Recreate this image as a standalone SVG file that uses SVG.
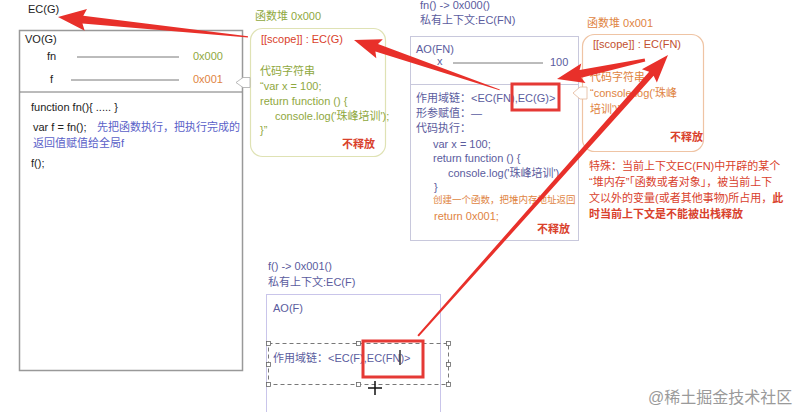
<svg xmlns="http://www.w3.org/2000/svg" width="804" height="412" viewBox="0 0 804 412">
<style>
text{font-family:"Liberation Sans","Noto Sans CJK SC",sans-serif;font-size:11px;}
.blk{fill:#222;}
.pur{fill:#5b5c9e;}
.grn{fill:#8fa83e;}
.org{fill:#e0843f;}
.red{fill:#d9412c;}
.rb{fill:#d9412c;font-weight:bold;}
.blue{fill:#5a5fc8;}
.ln{stroke:#555;stroke-width:0.8;}
.arrow{fill:#e8302a;}
.hd{fill:#fff;stroke:#666;stroke-width:0.8;}
</style>
<rect width="804" height="412" fill="#fff"/>

<g id="ecg">
<text x="28" y="13" class="blk">EC(G)</text>
</g>

<g id="vog">
<rect x="19.5" y="30.5" width="223" height="340" fill="#fff" stroke="#999" stroke-width="1.5"/>
<text x="25" y="43" class="blk">VO(G)</text>
<text x="47" y="60" class="blk">fn</text>
<line x1="77" y1="57" x2="179" y2="57" class="ln"/>
<text x="193" y="60" class="grn">0x000</text>
<text x="50" y="83" class="blk">f</text>
<line x1="71" y1="80" x2="179" y2="80" class="ln"/>
<text x="193" y="83" class="org">0x001</text>
<line x1="20" y1="92" x2="242" y2="92" stroke="#777" stroke-width="1"/>
<text x="31" y="111" class="blk">function fn(){ ..... }</text>
<text x="33" y="131" class="blk">var f = fn();</text>
<text x="97" y="131" class="blue">先把函数执行，把执行完成的</text>
<text x="33" y="147" class="blue">返回值赋值给全局f</text>
<text x="31" y="167" class="blk">f();</text>
</g>

<g id="heap0">
<text x="255" y="20" class="grn">函数堆  0x000</text>
<rect x="250.5" y="28.5" width="135" height="128" rx="12" fill="#fff" stroke="#dfe2b4" stroke-width="1.2"/>
<text x="261" y="43" class="red">[[scope]] : EC(G)</text>
<text x="260" y="75" class="grn">代码字符串</text>
<text x="260" y="90" class="grn">“var x = 100;</text>
<text x="260" y="105" class="grn">return function () {</text>
<text x="275" y="120" class="grn">console.log('珠峰培训');</text>
<text x="260" y="134" class="grn">}”</text>
<text x="342" y="148" class="rb">不释放</text>
</g>

<g id="aofn">
<text x="420" y="9" class="pur">fn() -&gt; 0x000()</text>
<text x="420" y="24" class="pur">私有上下文:EC(FN)</text>
<rect x="410.5" y="36.5" width="168" height="204" fill="#fff" stroke="#c8c8dc" stroke-width="1"/>
<text x="416" y="53" class="pur">AO(FN)</text>
<text x="437" y="65" class="pur">x</text>
<line x1="453" y1="63" x2="543" y2="63" class="ln"/>
<text x="550" y="66" class="pur">100</text>
<line x1="411" y1="84.5" x2="578" y2="84.5" stroke="#c8c8dc" stroke-width="1"/>
<text x="416" y="102" class="pur">作用域链：&lt;EC(FN),EC(G)&gt;</text>
<text x="416" y="117" class="pur">形参赋值：—</text>
<text x="416" y="132" class="pur">代码执行：</text>
<text x="433" y="148" class="pur">var x = 100;</text>
<text x="433" y="162" class="pur">return function () {</text>
<text x="448" y="177" class="pur">console.log('珠峰培训')</text>
<text x="434" y="191" class="pur">}</text>
<text x="433" y="203" class="org" style="font-size:9.5px">创建一个函数，把堆内存地址返回</text>
<text x="434" y="220" class="org">return 0x001;</text>
<text x="537" y="233" class="rb">不释放</text>
<rect x="512" y="84" width="47" height="26" fill="none" stroke="#e53935" stroke-width="3"/>
</g>

<g id="heap1">
<text x="587" y="27" class="org">函数堆 0x001</text>
<rect x="582.5" y="34.5" width="121" height="117" rx="12" fill="#fff" stroke="#efc4a4" stroke-width="1.2"/>
<text x="593" y="48" fill="#c2502f">[[scope]] : EC(FN)</text>
<text x="590" y="81" class="org">代码字符串</text>
<text x="590" y="97" class="org">“console.log('珠峰</text>
<text x="590" y="113" class="org">培训')”</text>
<text x="670" y="141" class="rb">不释放</text>
</g>

<g id="note">
<text x="589" y="170" class="red">特殊：当前上下文EC(FN)中开辟的某个</text>
<text x="589" y="186" class="red">“堆内存”「函数或者对象」，被当前上下</text>
<text x="589" y="202" class="red">文以外的变量(或者其他事物)所占用，<tspan font-weight="bold">此</tspan></text>
<text x="589" y="218" class="rb">时当前上下文是不能被出栈释放</text>
</g>

<g id="aof">
<text x="268" y="270" class="pur">f() -&gt; 0x001()</text>
<text x="268" y="286" class="pur">私有上下文:EC(F)</text>
<rect x="266.5" y="294.5" width="174" height="130" fill="#fff" stroke="#c9c5ea" stroke-width="1"/>
<text x="273" y="312" class="pur">AO(F)</text>
<rect x="268.5" y="343.5" width="180" height="41" fill="none" stroke="#555" stroke-width="0.8" stroke-dasharray="4,3"/>
<rect x="266.5" y="341.5" width="4" height="4" class="hd"/>
<rect x="356.5" y="341.5" width="4" height="4" class="hd"/>
<rect x="446.5" y="341.5" width="4" height="4" class="hd"/>
<rect x="266.5" y="362.5" width="4" height="4" class="hd"/>
<rect x="446.5" y="362.5" width="4" height="4" class="hd"/>
<rect x="266.5" y="382.5" width="4" height="4" class="hd"/>
<rect x="356.5" y="382.5" width="4" height="4" class="hd"/>
<rect x="446.5" y="382.5" width="4" height="4" class="hd"/>
<text x="273" y="362" class="pur">作用域链：&lt;EC(F),EC(FN)&gt;</text>
<line x1="400" y1="350" x2="400" y2="365" stroke="#333" stroke-width="1.5"/>
<rect x="363" y="341" width="60" height="36" fill="none" stroke="#e53935" stroke-width="3"/>
<g stroke="#111" stroke-width="1.5">
<line x1="375" y1="381" x2="375" y2="395"/>
<line x1="368" y1="388" x2="382" y2="388"/>
</g>
</g>

<g id="connectors">
<polygon points="236,82.5 243,77.5 250,77.5 250,87.5 243,87.5" fill="#fff" stroke="#aaa" stroke-width="0.8"/>
<polygon points="573,93 580,87 587,87 587,99 580,99" fill="#fff" stroke="#e3b89b" stroke-width="0.8"/>
<g transform="translate(58,17) rotate(186)"><polygon class="arrow" points="0,0 -28,-11 -25,-4 -191,-0.6 -191,0.6 -25,4 -28,11"/></g>
<g transform="translate(354,40) rotate(198.9)"><polygon class="arrow" points="0,0 -27,-10 -24,-4 -154,-0.5 -154,0.5 -24,4 -27,10"/></g>
<g transform="translate(557,79) rotate(167.8)"><polygon class="arrow" points="0,0 -27,-10 -24,-4 -90,-1.5 -90,1.5 -24,4 -27,10"/></g>
<g transform="translate(668,55) rotate(-48.35)"><polygon class="arrow" points="0,0 -28,-10 -25,-3 -376,-1 -376,1 -25,3 -28,10"/></g>
</g>

<g id="watermark">
<text x="648" y="403" style="font-size:16px" fill="#9a9a9a">@稀土掘金技术社区</text>
</g>
</svg>
